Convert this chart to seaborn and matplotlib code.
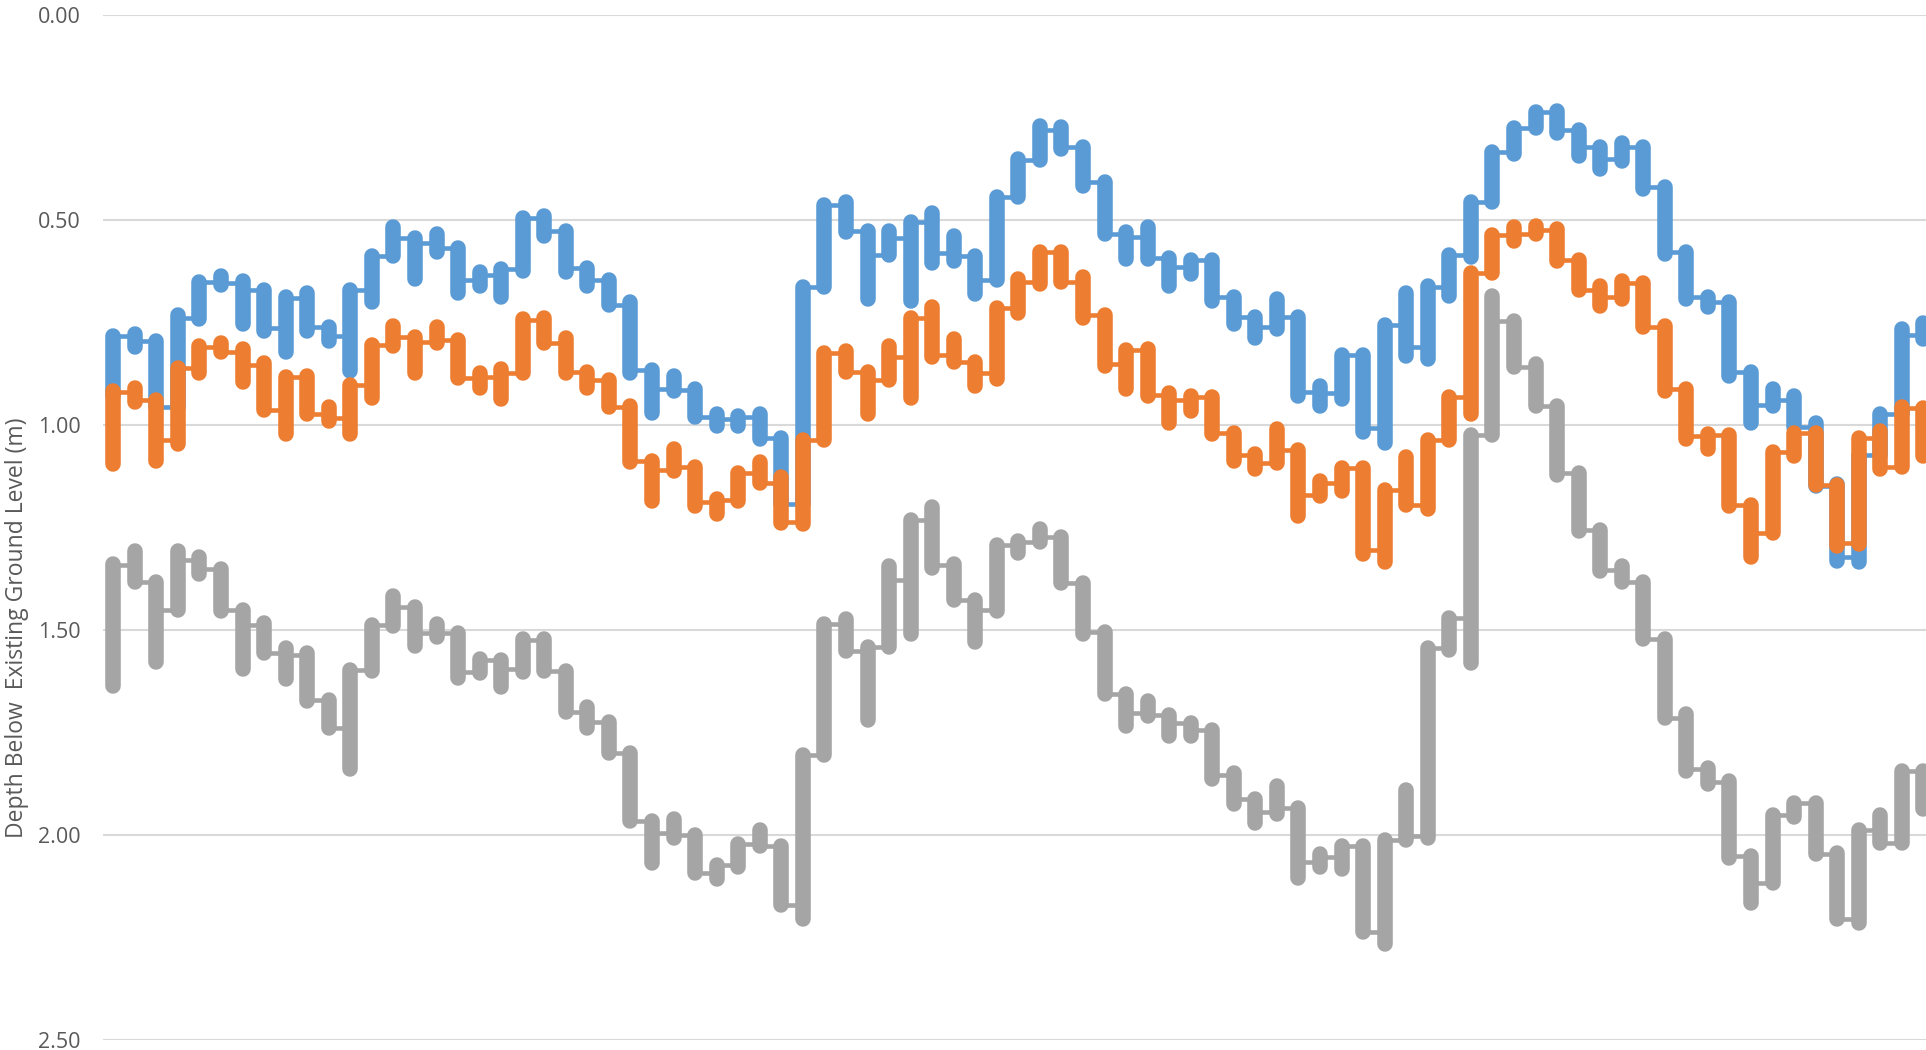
import matplotlib
matplotlib.use("Agg")
import matplotlib.pyplot as plt
import pandas as pd
import seaborn as sns

# Depth readings (m) per survey column: shallowest point, deepest point,
# and the depth at which the trace links across to the next column.
blue_top = [0.787, 0.777, 0.809, 0.731, 0.652, 0.636, 0.648, 0.681, 0.689, 0.677,
            0.762, 0.673, 0.587, 0.518, 0.547, 0.535, 0.579, 0.628, 0.620, 0.498,
            0.490, 0.528, 0.618, 0.646, 0.701, 0.866, 0.880, 0.913, 0.974, 0.978,
            0.974, 1.032, 0.663, 0.463, 0.457, 0.528, 0.526, 0.504, 0.482, 0.539,
            0.587, 0.443, 0.352, 0.270, 0.274, 0.321, 0.407, 0.530, 0.518, 0.593,
            0.598, 0.598, 0.687, 0.736, 0.693, 0.736, 0.904, 0.829, 0.829, 0.756,
            0.677, 0.660, 0.585, 0.455, 0.333, 0.276, 0.236, 0.234, 0.280, 0.321,
            0.311, 0.321, 0.419, 0.577, 0.687, 0.699, 0.870, 0.913, 0.929, 0.995,
            1.144, 1.073, 0.972, 0.766, 0.750]
blue_bottom = [0.930, 0.809, 0.955, 0.955, 0.742, 0.659, 0.754, 0.770, 0.823, 0.770,
               0.795, 0.868, 0.701, 0.589, 0.644, 0.579, 0.677, 0.660, 0.689, 0.624,
               0.539, 0.628, 0.660, 0.707, 0.872, 0.970, 0.917, 0.980, 1.002, 1.002,
               1.035, 1.193, 1.193, 0.663, 0.530, 0.693, 0.585, 0.697, 0.604, 0.600,
               0.681, 0.646, 0.443, 0.354, 0.327, 0.417, 0.533, 0.596, 0.596, 0.660,
               0.632, 0.697, 0.754, 0.787, 0.766, 0.929, 0.953, 0.937, 1.018, 1.043,
               0.831, 0.840, 0.685, 0.590, 0.457, 0.339, 0.272, 0.287, 0.343, 0.376,
               0.356, 0.425, 0.583, 0.693, 0.713, 0.880, 0.994, 0.953, 1.004, 1.150,
               1.331, 1.335, 1.073, 0.972, 0.791]
blue_link = [0.783, 0.794, 0.955, 0.740, 0.650, 0.654, 0.671, 0.764, 0.691, 0.760,
             0.783, 0.671, 0.589, 0.544, 0.557, 0.569, 0.646, 0.634, 0.620, 0.496,
             0.528, 0.618, 0.646, 0.707, 0.866, 0.911, 0.915, 0.980, 0.986, 0.980,
             1.032, 1.193, 0.663, 0.463, 0.528, 0.585, 0.545, 0.504, 0.581, 0.589,
             0.646, 0.443, 0.354, 0.280, 0.321, 0.407, 0.533, 0.541, 0.593, 0.614,
             0.598, 0.687, 0.736, 0.760, 0.736, 0.919, 0.923, 0.829, 1.008, 0.756,
             0.809, 0.663, 0.585, 0.455, 0.333, 0.276, 0.236, 0.280, 0.321, 0.350,
             0.321, 0.419, 0.577, 0.687, 0.699, 0.870, 0.951, 0.939, 1.004, 1.150,
             1.321, 1.073, 0.972, 0.780]

orange_top = [0.917, 0.909, 0.949, 0.864, 0.807, 0.799, 0.815, 0.848, 0.882, 0.880,
              0.957, 0.902, 0.805, 0.758, 0.787, 0.762, 0.793, 0.872, 0.864, 0.742,
              0.738, 0.787, 0.870, 0.890, 0.953, 1.089, 1.059, 1.102, 1.181, 1.118,
              1.091, 1.128, 1.037, 0.825, 0.819, 0.870, 0.807, 0.740, 0.713, 0.791,
              0.846, 0.715, 0.644, 0.577, 0.577, 0.640, 0.732, 0.817, 0.815, 0.921,
              0.929, 0.931, 1.020, 1.071, 1.010, 1.061, 1.136, 1.106, 1.106, 1.159,
              1.079, 1.037, 0.931, 0.630, 0.537, 0.518, 0.514, 0.522, 0.598, 0.660,
              0.648, 0.654, 0.758, 0.911, 1.022, 1.024, 1.195, 1.065, 1.020, 1.020,
              1.146, 1.032, 1.014, 0.957, 0.959]
orange_bottom = [1.096, 0.945, 1.087, 1.047, 0.872, 0.823, 0.896, 0.961, 1.022, 0.972,
                 0.990, 1.022, 0.933, 0.807, 0.872, 0.799, 0.885, 0.909, 0.937, 0.874,
                 0.801, 0.872, 0.909, 0.955, 1.091, 1.185, 1.112, 1.197, 1.218, 1.185,
                 1.142, 1.238, 1.242, 1.037, 0.870, 0.974, 0.890, 0.933, 0.835, 0.846,
                 0.904, 0.888, 0.726, 0.657, 0.650, 0.738, 0.856, 0.913, 0.929, 0.994,
                 0.965, 1.022, 1.087, 1.108, 1.093, 1.221, 1.173, 1.160, 1.315, 1.335,
                 1.195, 1.205, 1.037, 0.974, 0.630, 0.551, 0.530, 0.600, 0.671, 0.709,
                 0.693, 0.760, 0.917, 1.035, 1.059, 1.197, 1.323, 1.264, 1.075, 1.146,
                 1.295, 1.291, 1.108, 1.102, 1.075]
orange_link = [0.919, 0.939, 1.037, 0.862, 0.809, 0.821, 0.854, 0.963, 0.882, 0.972,
               0.984, 0.902, 0.805, 0.785, 0.797, 0.793, 0.885, 0.882, 0.874, 0.744,
               0.801, 0.870, 0.890, 0.955, 1.089, 1.110, 1.102, 1.187, 1.183, 1.118,
               1.142, 1.236, 1.037, 0.825, 0.870, 0.890, 0.833, 0.740, 0.829, 0.846,
               0.874, 0.715, 0.650, 0.577, 0.650, 0.732, 0.850, 0.817, 0.927, 0.939,
               0.931, 1.020, 1.073, 1.093, 1.061, 1.171, 1.142, 1.106, 1.305, 1.159,
               1.195, 1.037, 0.931, 0.630, 0.537, 0.533, 0.524, 0.598, 0.671, 0.687,
               0.654, 0.760, 0.911, 1.028, 1.024, 1.195, 1.264, 1.065, 1.020, 1.146,
               1.289, 1.032, 1.102, 0.959]

gray_top = [1.340, 1.307, 1.392, 1.307, 1.323, 1.350, 1.451, 1.482, 1.543, 1.555,
            1.671, 1.598, 1.488, 1.417, 1.443, 1.486, 1.508, 1.571, 1.573, 1.521,
            1.521, 1.599, 1.687, 1.725, 1.800, 1.965, 1.962, 2.000, 2.074, 2.022,
            1.988, 2.026, 1.804, 1.486, 1.473, 1.542, 1.345, 1.232, 1.201, 1.340,
            1.427, 1.293, 1.283, 1.254, 1.274, 1.386, 1.504, 1.655, 1.673, 1.707,
            1.726, 1.744, 1.848, 1.911, 1.880, 1.935, 2.047, 2.028, 2.026, 2.012,
            1.891, 1.544, 1.470, 1.025, 0.686, 0.746, 0.852, 0.954, 1.118, 1.255,
            1.344, 1.383, 1.522, 1.705, 1.836, 1.869, 2.052, 1.951, 1.921, 1.921,
            2.044, 1.987, 1.951, 1.845, 1.845]
gray_bottom = [1.636, 1.384, 1.579, 1.451, 1.364, 1.453, 1.596, 1.557, 1.620, 1.673,
               1.740, 1.840, 1.600, 1.490, 1.539, 1.518, 1.616, 1.604, 1.640, 1.602,
               1.599, 1.699, 1.738, 1.800, 1.965, 2.069, 2.008, 2.092, 2.108, 2.078,
               2.026, 2.170, 2.204, 1.804, 1.551, 1.720, 1.542, 1.510, 1.348, 1.427,
               1.530, 1.453, 1.311, 1.285, 1.386, 1.510, 1.655, 1.734, 1.709, 1.758,
               1.758, 1.864, 1.925, 1.970, 1.949, 2.104, 2.079, 2.083, 2.236, 2.266,
               2.012, 2.007, 1.548, 1.580, 1.025, 0.858, 0.954, 1.121, 1.258, 1.356,
               1.384, 1.522, 1.714, 1.843, 1.875, 2.056, 2.165, 2.118, 1.957, 2.047,
               2.205, 2.214, 2.020, 2.020, 1.936]
gray_link = [1.341, 1.382, 1.451, 1.329, 1.350, 1.451, 1.488, 1.557, 1.561, 1.671,
             1.740, 1.598, 1.488, 1.443, 1.508, 1.508, 1.602, 1.573, 1.595, 1.525,
             1.599, 1.699, 1.725, 1.800, 1.965, 1.996, 2.000, 2.092, 2.074, 2.022,
             2.026, 2.170, 1.804, 1.486, 1.551, 1.542, 1.378, 1.232, 1.341, 1.427,
             1.450, 1.293, 1.285, 1.274, 1.386, 1.504, 1.655, 1.703, 1.707, 1.728,
             1.744, 1.854, 1.911, 1.943, 1.935, 2.065, 2.053, 2.028, 2.236, 2.012,
             2.003, 1.544, 1.470, 1.025, 0.746, 0.858, 0.954, 1.118, 1.255, 1.353,
             1.383, 1.522, 1.714, 1.839, 1.870, 2.052, 2.118, 1.951, 1.921, 2.047,
             2.205, 1.987, 2.020, 1.845]

stations = list(range(len(blue_top)))
depth_ticks = [0.0, 0.5, 1.0, 1.5, 2.0, 2.5]
y_label = "Depth Below  Existing Ground Level (m)"

BLUE, ORANGE, GRAY = "#5B9BD5", "#ED7D31", "#A5A5A5"
TEXT = "#595959"

sns.set_theme(style="white")
plt.rcParams["font.family"] = ["Open Sans", "DejaVu Sans"]

fig = plt.figure(figsize=(19.26, 10.5), dpi=100)
ax = fig.add_axes([103 / 1926, 10 / 1050, 1823 / 1926, 1025 / 1050])


def draw_trace(top, bottom, link, color):
    n = len(top)
    xs, ys, lo, hi = [], [], [], []
    for k in range(n):
        pts = []
        if k > 0:
            pts.append(link[k - 1])
        if k < n - 1:
            pts.append(link[k])
        for p in pts:
            xs.append(stations[k])
            ys.append(p)
        lo.append(min([top[k]] + pts))
        hi.append(max([bottom[k]] + pts))
    path = pd.DataFrame({"station": xs, "depth": ys})
    # thin links between columns
    sns.lineplot(data=path, x="station", y="depth", sort=False, estimator=None,
                 color=color, linewidth=3.3, legend=False, ax=ax, zorder=3)
    # dense readings in each column, drawn as a thick round-ended stroke
    ax.vlines(stations, lo, hi, colors=color, linewidth=11.2,
              capstyle="round", zorder=3)


draw_trace(blue_top, blue_bottom, blue_link, BLUE)
draw_trace(orange_top, orange_bottom, orange_link, ORANGE)
draw_trace(gray_top, gray_bottom, gray_link, GRAY)

ax.set_xlim(-0.478, 84.12)
ax.set_ylim(2.5, 0.0)
ax.set_yticks(depth_ticks)
ax.set_yticklabels([f"{t:.2f}" for t in depth_ticks])
ax.set_xticks([])
ax.set_xlabel("")
ax.set_ylabel(y_label, fontsize=16.5, color=TEXT)
ax.yaxis.set_label_coords(-0.0408, 0.402)
ax.tick_params(axis="y", labelsize=15.5, labelcolor=TEXT, length=0, pad=16)
ax.yaxis.grid(True, color="#D9D9D9", linewidth=1.5)
ax.xaxis.grid(False)
ax.set_axisbelow(True)
for s in ax.spines.values():
    s.set_visible(False)

fig.savefig("out.png", dpi=100, facecolor="white")
